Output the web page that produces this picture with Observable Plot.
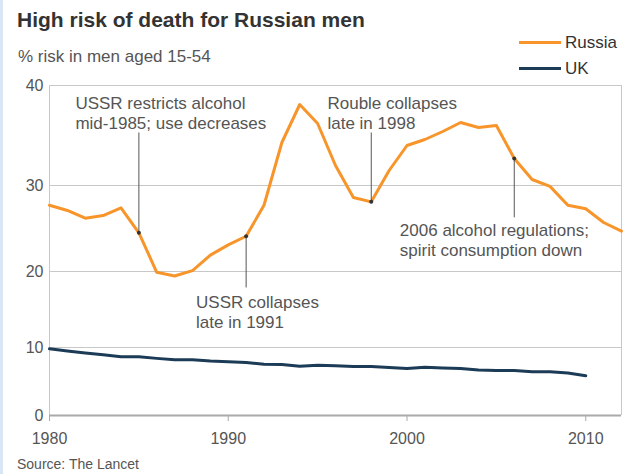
<!DOCTYPE html>
<html><head><meta charset="utf-8">
<script src="https://cdn.jsdelivr.net/npm/d3@7"></script>
<script src="https://cdn.jsdelivr.net/npm/@observablehq/plot@0.6"></script>
<style>
body{margin:0;background:#fff;}
#wrap{position:relative;width:632px;height:474px;overflow:hidden;font-family:"Liberation Sans",Arial,sans-serif;background:#fff;}
#chart{position:absolute;left:0;top:0;}
.t{position:absolute;white-space:nowrap;line-height:1;}
.lg{position:absolute;height:3px;width:42px;left:519px;}
#edge{position:absolute;left:0;top:0;width:3px;height:474px;background:#d9e6f3;}
</style></head><body>
<div id="wrap">
  <div id="chart"></div>
  <div id="edge"></div>
  <div class="t" style="left:17px;top:9px;font-size:21px;font-weight:bold;color:#333">High risk of death for Russian men</div>
  <div class="t" style="left:18px;top:48px;font-size:17px;color:#555">% risk in men aged 15-54</div>
  <div class="lg" style="top:41px;background:#f7952b"></div>
  <div class="t" style="left:565px;top:34px;font-size:17px;color:#333">Russia</div>
  <div class="lg" style="top:67px;background:#1c3b57"></div>
  <div class="t" style="left:565px;top:60px;font-size:17px;color:#333">UK</div>
  <div class="t" style="left:17px;top:457px;font-size:14px;color:#555">Source: The Lancet</div>
</div>
<script>
const russiaYears = [1980,1981,1982,1983,1984,1985,1986,1987,1988,1989,1990,1991,1992,1993,1994,1995,1996,1997,1998,1999,2000,2001,2002,2003,2004,2005,2006,2007,2008,2009,2010,2011,2012];
const russiaValues = [27.7,27.1,26.2,26.5,27.4,24.5,19.9,19.4,20.1,21.9,23.1,24.1,27.7,34.3,38.1,36.2,32.0,28.6,28.1,31.5,34.0,34.6,35.4,36.3,35.8,36.0,32.7,30.6,29.9,27.7,27.3,25.7,24.7];
const ukYears = [1980,1981,1982,1983,1984,1985,1986,1987,1988,1989,1990,1991,1992,1993,1994,1995,1996,1997,1998,1999,2000,2001,2002,2003,2004,2005,2006,2007,2008,2009,2010];
const ukValues = [9.8,9.5,9.2,8.95,8.65,8.65,8.4,8.2,8.2,8.0,7.9,7.8,7.55,7.5,7.26,7.4,7.3,7.2,7.2,7.07,6.9,7.1,7.0,6.9,6.7,6.6,6.6,6.45,6.45,6.25,5.85];
const yTicks = [0,10,20,30,40];
const xTicks = [1980,1990,2000,2010];

const noteYears = [1985,1991,1998,2006];
const noteLabels = ["USSR restricts alcohol\nmid-1985; use decreases","USSR collapses\nlate in 1991","Rouble collapses\nlate in 1998","2006 alcohol regulations;\nspirit consumption down"];
const noteTextX = [1981.45,1988.2,1995.55,1999.6];
const noteTextY = [39.1,17.1,39.1,25.8];
const noteLeaderEnd = [35.3,17.9,35.3,26.3];

const russia = russiaYears.map((year,i)=>({year, value: russiaValues[i]}));
const uk = ukYears.map((year,i)=>({year, value: ukValues[i]}));
const notes = noteYears.map((year,i)=>({
  year, value: russiaValues[russiaYears.indexOf(year)],
  label: noteLabels[i], tx: noteTextX[i], ty: noteTextY[i], end: noteLeaderEnd[i]
}));

// the reference's value axis is unevenly spaced: piecewise-linear warp of the tick values
const warp = d3.scaleLinear().domain(yTicks).range([0,68,144,230,330]);

const chart = Plot.plot({
  width: 632, height: 474,
  marginTop: 85, marginBottom: 59, marginLeft: 49, marginRight: 11,
  style: {fontFamily: '"Liberation Sans", Arial, sans-serif', background: "transparent", color: "#555"},
  x: {domain: [1980, 2012]},
  y: {transform: v => warp(v), domain: [0, 330]},
  marks: [
    Plot.gridY([10,20,30,40], {stroke: "#c8c8c8", strokeOpacity: 1}),
    Plot.ruleX([1980, 2012], {y1: 0, y2: 40, stroke: "#c8c8c8"}),
    Plot.axisY(yTicks, {tickSize: 0, tickPadding: 6, fontSize: 16, fill: "#555", tickFormat: d => String(d)}),
    Plot.axisX(xTicks, {tickSize: 6, tickPadding: 11, fontSize: 16, fill: "#555", stroke: "#aaa", tickFormat: d => String(d)}),
    Plot.ruleY([0], {stroke: "#aaa", strokeWidth: 2}),
    Plot.line(uk, {x: "year", y: "value", stroke: "#1c3b57", strokeWidth: 3, strokeLinejoin: "round"}),
    Plot.line(russia, {x: "year", y: "value", stroke: "#f7952b", strokeWidth: 3, strokeLinejoin: "round"}),
    Plot.link(notes, {x1: "year", x2: "year", y1: "value", y2: "end", stroke: "#555", strokeWidth: 1}),
    Plot.dot(notes, {x: "year", y: "value", r: 2, fill: "#333"}),
    Plot.text(notes, {x: "tx", y: "ty", text: "label", textAnchor: "start", lineAnchor: "top", lineHeight: 1.2, fontSize: 17, fill: "#555"})
  ]
});
document.getElementById("chart").appendChild(chart);
</script>
</body></html>
